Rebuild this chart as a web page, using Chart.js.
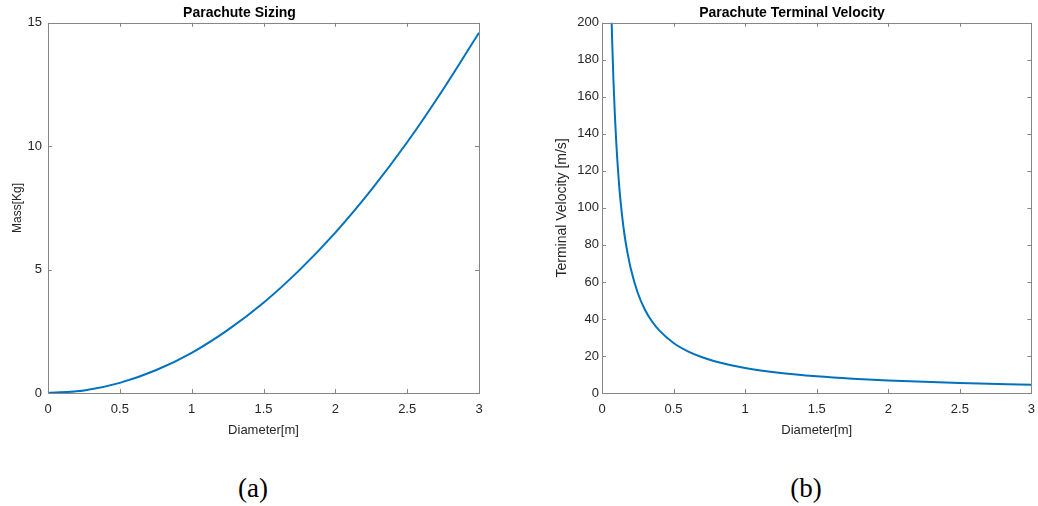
<!DOCTYPE html>
<html lang="en">
<head>
  <meta charset="UTF-8">
  <title>Parachute Sizing and Terminal Velocity</title>
  <script src="https://cdn.jsdelivr.net/npm/chart.js"></script>
  <style>
    body { margin: 0; background: #fff; width: 1038px; height: 506px; position: relative; overflow: hidden; }
    canvas { position: absolute; top: 0; }
    .caption { position: absolute; top: 472px; width: 100px; height: 32px; line-height: 32px;
               text-align: center; font-family: "Liberation Serif", serif; font-size: 27px; color: #000; }
  </style>
</head>
<body>
  <canvas id="sizingChart" width="520" height="450" style="left:0"></canvas>
  <canvas id="velocityChart" width="504" height="450" style="left:540px"></canvas>
  <div class="caption" style="left:203px">(a)</div>
  <div class="caption" style="left:756px">(b)</div>

  <script>
    // (a) mass vs diameter
    const massDiameter = [0, 0.25, 0.5, 0.75, 1, 1.25, 1.5, 1.75, 2, 2.25, 2.5, 2.75, 3];
    const massKg = [0, 0.1, 0.41, 0.92, 1.63, 2.55, 3.66, 4.98, 6.5, 8.23, 10.16, 12.3, 14.6];
    const massTicks = [0, 5, 10, 15];

    // (b) terminal velocity vs diameter
    const velDiameter = [0.06, 0.07, 0.08, 0.09, 0.1, 0.12, 0.14, 0.16, 0.18, 0.2, 0.25, 0.3, 0.35, 0.4,
                         0.5, 0.6, 0.7, 0.8, 1.0, 1.25, 1.5, 1.75, 2.0, 2.5, 3.0];
    const velMs = [225, 193, 169, 150, 135, 112, 96, 84, 75, 67.5, 54, 45, 38.6, 33.8,
                   27, 22.5, 19.3, 16.9, 13.5, 10.8, 9, 7.7, 6.75, 5.4, 4.5];
    const velTicks = [0, 20, 40, 60, 80, 100, 120, 140, 160, 180, 200];

    const diameterTicks = [0, 0.5, 1, 1.5, 2, 2.5, 3];

    const LINE = '#0072BD';
    const AXIS = '#868686';
    const TEXT = '#262626';
    const FONT = '"Liberation Sans", Arial, sans-serif';

    // MATLAB-like box with inward ticks on all four sides
    const matlabBox = {
      id: 'matlabBox',
      afterDatasetsDraw(chart) {
        const { ctx, chartArea: a, scales: { x, y } } = chart;
        const len = 4;
        ctx.save();
        ctx.strokeStyle = AXIS;
        ctx.lineWidth = 1;
        ctx.strokeRect(Math.round(a.left) + 0.5, Math.round(a.top) + 0.5,
                       Math.round(a.right - a.left), Math.round(a.bottom - a.top));
        ctx.beginPath();
        x.ticks.forEach(t => {
          const px = Math.round(x.getPixelForValue(t.value)) + 0.5;
          ctx.moveTo(px, a.bottom); ctx.lineTo(px, a.bottom - len);
          ctx.moveTo(px, a.top); ctx.lineTo(px, a.top + len);
        });
        y.ticks.forEach(t => {
          const py = Math.round(y.getPixelForValue(t.value)) + 0.5;
          ctx.moveTo(a.left, py); ctx.lineTo(a.left + len, py);
          ctx.moveTo(a.right, py); ctx.lineTo(a.right - len, py);
        });
        ctx.stroke();
        ctx.restore();
      }
    };

    function makeChart(id, cfg) {
      return new Chart(document.getElementById(id), {
        type: 'line',
        data: {
          datasets: [{
            data: cfg.xs.map((x, i) => ({ x, y: cfg.ys[i] })),
            borderColor: LINE,
            borderWidth: 2,
            pointRadius: 0,
            fill: false,
            cubicInterpolationMode: 'monotone'
          }]
        },
        options: {
          responsive: false,
          animation: false,
          devicePixelRatio: 1,
          layout: { padding: { left: 0, right: cfg.padRight, top: 0, bottom: 0 } },
          plugins: {
            legend: { display: false },
            tooltip: { enabled: false },
            title: {
              display: true,
              text: cfg.title,
              color: '#000',
              font: { family: FONT, size: 14, weight: 'bold' },
              padding: { top: 5, bottom: 1 }
            }
          },
          scales: {
            x: {
              type: 'linear',
              min: 0, max: 3,
              afterBuildTicks: s => { s.ticks = diameterTicks.map(v => ({ value: v })); },
              afterFit: s => { s.height = 57; },
              grid: { display: false, drawTicks: false },
              border: { display: false },
              ticks: {
                color: TEXT, padding: 9, maxRotation: 0, font: { family: FONT, size: 13 },
                callback: v => String(v)
              },
              title: {
                display: true, text: 'Diameter[m]', color: TEXT,
                font: { family: FONT, size: 13 }, padding: { top: 0, bottom: 12 }
              }
            },
            y: {
              type: 'linear',
              min: 0, max: cfg.yMax,
              afterBuildTicks: s => { s.ticks = cfg.yTicks.map(v => ({ value: v })); },
              afterFit: s => { s.width = cfg.yWidth; },
              grid: { display: false, drawTicks: false },
              border: { display: false },
              ticks: {
                color: TEXT, padding: cfg.tickPad, font: { family: FONT, size: 13 },
                callback: v => String(v)
              },
              title: {
                display: true, text: cfg.yTitle, color: TEXT,
                font: { family: FONT, size: cfg.yTitleSize }, padding: { top: cfg.yTitlePad, bottom: 0 }
              }
            }
          }
        },
        plugins: [matlabBox]
      });
    }

    makeChart('sizingChart', {
      xs: massDiameter, ys: massKg, title: 'Parachute Sizing',
      yTitle: 'Mass[Kg]', yMax: 15, yTicks: massTicks, yTitleSize: 12,
      yWidth: 48, padRight: 41, tickPad: 6, yTitlePad: 10
    });

    makeChart('velocityChart', {
      xs: velDiameter, ys: velMs, title: 'Parachute Terminal Velocity',
      yTitle: 'Terminal Velocity [m/s]', yMax: 200, yTicks: velTicks, yTitleSize: 14,
      yWidth: 62, padRight: 0, tickPad: 3, yTitlePad: 14
    });
  </script>
</body>
</html>
